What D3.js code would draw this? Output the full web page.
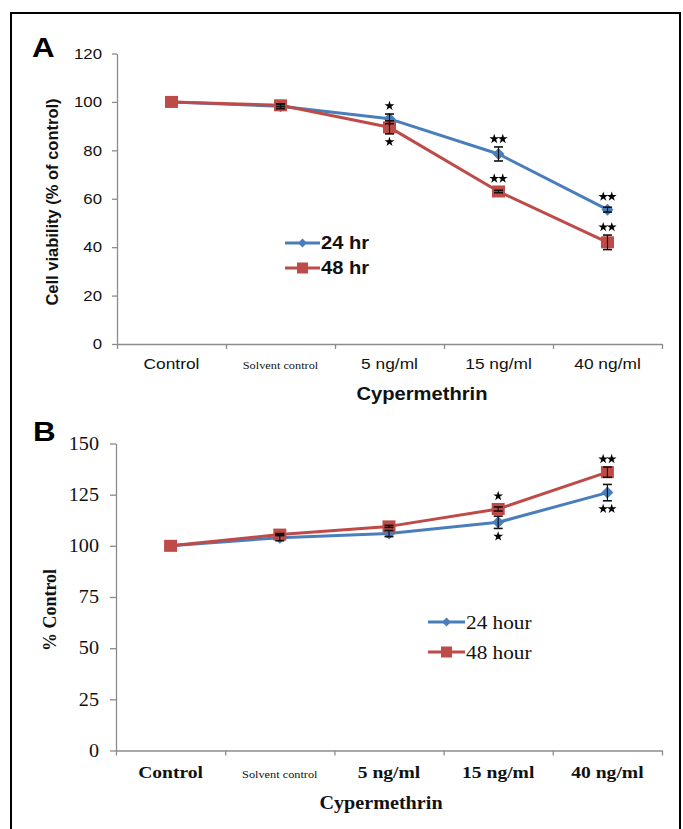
<!DOCTYPE html>
<html>
<head>
<meta charset="utf-8">
<script src="https://cdn.jsdelivr.net/npm/d3@7"></script>
<style>
  html, body { margin: 0; padding: 0; background: #fff; }
  svg { display: block; }
</style>
</head>
<body>
<svg id="chart" width="683" height="829"></svg>
<script>
// ---------- DATA ----------
const categories = ["Control", "Solvent control", "5 ng/ml", "15 ng/ml", "40 ng/ml"];

// Panel A: cell viability (% of control)
const seriesNamesA = ["24 hr", "48 hr"];
const viability24 = [100, 98.2, 93, 78.5, 55.5];
const viability48 = [100, 98.6, 89.5, 63, 42];
const viabilityErr24 = [0, 1, 2, 2.9, 1];
const viabilityErr48 = [0, 0.5, 2.7, 0.5, 3];
const sigA24 = ["", "", "*", "**", "**"];
const sigA48 = ["", "", "*", "**", "**"];
const sigPosA24 = ["", "", "above", "above", "above"];
const sigPosA48 = ["", "", "below", "above", "above"];
const yTicksA = [0, 20, 40, 60, 80, 100, 120];

// Panel B: % control
const seriesNamesB = ["24 hour", "48 hour"];
const pct24 = [100, 104, 106, 111.5, 126];
const pct48 = [100, 105.5, 109.5, 118, 136];
const pctErr24 = [0, 1.5, 1.5, 3, 4];
const pctErr48 = [0, 0.5, 0.5, 1, 2.5];
const sigB24 = ["", "", "", "*", "**"];
const sigB48 = ["", "", "", "*", "**"];
const sigPosB24 = ["", "", "", "below", "below"];
const sigPosB48 = ["", "", "", "above", "above"];
const yTicksB = [0, 25, 50, 75, 100, 125, 150];

// ---------- STYLE ----------
const BLUE = "#4a7ebb";
const RED = "#be4b48";
const AXIS = "#8c8c8c";
const TXT = "#111";
const SANS = "'Liberation Sans', Arial, sans-serif";
const SERIF = "'Liberation Serif', 'Times New Roman', serif";
const SX = 1.12; // horizontal stretch of the reference's lettering

const svg = d3.select("#chart");

// outer frame
svg.append("rect").attr("x", 11).attr("y", 13).attr("width", 669).attr("height", 840)
  .attr("fill", "none").attr("stroke", "#000").attr("stroke-width", 2);

function stretch(sel) {
  sel.each(function () {
    const t = d3.select(this);
    const x = +t.attr("x") || 0, y = +t.attr("y") || 0;
    t.attr("x", 0).attr("y", 0).attr("transform", `translate(${x},${y}) scale(${SX},1)`);
  });
}

function panel(o) {
  const g = svg.append("g");
  const x = d3.scaleBand().domain(categories).range([o.x0, o.x1]).padding(0);
  const cx = c => x(c) + x.bandwidth() / 2;
  const xb = d3.scaleLinear().domain([0, categories.length]).range([o.x0, o.x1]);
  const y = d3.scaleLinear().domain(o.yDomain).range([o.yBottom, o.yTop]);

  // y axis
  const ya = g.append("g").attr("transform", `translate(${o.x0},0)`)
    .call(d3.axisLeft(y).tickValues(o.yTicks).tickSize(o.tick).tickPadding(o.tickPad).tickSizeOuter(0));
  ya.select(".domain").attr("stroke", AXIS).attr("stroke-width", 1.3);
  ya.selectAll(".tick line").attr("stroke", AXIS).attr("stroke-width", 1.3);
  ya.selectAll(".tick text").attr("font-family", o.font).attr("font-size", o.tickFont).attr("fill", TXT);
  stretch(ya.selectAll(".tick text"));

  // x axis (ticks at category boundaries)
  const xa = g.append("g").attr("transform", `translate(0,${o.yBottom})`)
    .call(d3.axisBottom(xb).tickValues(d3.range(categories.length + 1)).tickFormat("").tickSize(5).tickSizeOuter(0));
  xa.select(".domain").attr("stroke", AXIS).attr("stroke-width", 1.3);
  xa.selectAll(".tick line").attr("stroke", AXIS).attr("stroke-width", 1.3);

  // category labels
  const cats = g.selectAll(".cat").data(categories).enter().append("text")
    .attr("x", d => cx(d)).attr("y", o.catY)
    .attr("text-anchor", "middle")
    .attr("font-family", (d, i) => i === 1 ? SERIF : o.font)
    .attr("font-size", (d, i) => i === 1 ? 11 : o.catFont)
    .attr("font-weight", (d, i) => i === 1 ? "normal" : o.catWeight)
    .attr("fill", TXT)
    .text(d => d);
  stretch(cats);

  // axis titles
  const xt = g.append("text").attr("x", o.xTitleX).attr("y", o.xTitleY).attr("text-anchor", "middle")
    .attr("font-family", o.font).attr("font-size", o.xTitleFont).attr("font-weight", "bold").attr("fill", TXT)
    .text("Cypermethrin");
  stretch(xt);
  g.append("text").attr("transform", `translate(${o.yTitleX},${o.yTitleY}) rotate(-90)`)
    .attr("text-anchor", "middle").attr("font-family", o.font).attr("font-size", o.yTitleFont)
    .attr("font-weight", "bold").attr("fill", TXT).text(o.yTitle);

  // panel letter
  const lt = g.append("text").attr("x", o.letterX).attr("y", o.letterY)
    .attr("font-family", SANS).attr("font-size", 28).attr("font-weight", "bold").attr("fill", "#000")
    .text(o.letter);
  stretch(lt);

  const line = d3.line().x((d, i) => cx(categories[i])).y(d => y(d));
  const starSym = d3.symbol().type(d3.symbolStar).size(30);
  const diamondPath = h => `M0,${-h}L${h},0L0,${h}L${-h},0Z`;

  o.series.forEach(s => {
    g.append("path").datum(s.values).attr("d", line)
      .attr("fill", "none").attr("stroke", s.color).attr("stroke-width", 3).attr("stroke-linejoin", "round");
    const pts = g.selectAll(null).data(s.values).enter();
    if (s.marker === "diamond") {
      pts.append("path").attr("d", diamondPath(o.dia))
        .attr("transform", (d, i) => `translate(${cx(categories[i])},${y(d)})`)
        .attr("fill", s.color);
    } else {
      pts.append("rect")
        .attr("x", (d, i) => cx(categories[i]) - o.sqW / 2)
        .attr("y", d => y(d) - o.sqH / 2)
        .attr("width", o.sqW).attr("height", o.sqH)
        .attr("fill", s.color);
    }
  });

  // error bars + significance stars
  o.series.forEach(s => {
    s.values.forEach((v, i) => {
      const e = s.err[i];
      const px = cx(categories[i]);
      if (e > 0) {
        const y1 = y(v + e), y2 = y(v - e);
        g.append("line").attr("x1", px).attr("x2", px).attr("y1", y1).attr("y2", y2)
          .attr("stroke", "#111").attr("stroke-width", 1.2);
        [y1, y2].forEach(yy => g.append("line").attr("x1", px - 4.5).attr("x2", px + 4.5)
          .attr("y1", yy).attr("y2", yy).attr("stroke", "#111").attr("stroke-width", 1.6));
      }
      const sig = s.sig[i];
      if (sig) {
        const errPx = Math.abs(y(v + e) - y(v));
        const off = Math.max(errPx, 5) + 8;
        const sy = s.sigPos[i] === "above" ? y(v) - off : y(v) + off;
        const n = sig.length;
        for (let k = 0; k < n; k++) {
          const sx = px + (k - (n - 1) / 2) * 8.5;
          g.append("path").attr("d", starSym).attr("transform", `translate(${sx},${sy})`)
            .attr("fill", "#000");
        }
      }
    });
  });

  // legend
  o.series.forEach((s, i) => {
    const ly = o.legY + i * o.legGap;
    g.append("line").attr("x1", o.legX).attr("x2", o.legX + o.legLen)
      .attr("y1", ly).attr("y2", ly).attr("stroke", s.color).attr("stroke-width", 3);
    const mx = o.legX + o.legLen / 2;
    if (s.marker === "diamond") {
      g.append("path").attr("d", diamondPath(4.5))
        .attr("transform", `translate(${mx},${ly})`).attr("fill", s.color);
    } else {
      g.append("rect").attr("x", mx - 5.5).attr("y", ly - 5.5).attr("width", 11).attr("height", 11)
        .attr("fill", s.color);
    }
    const t = g.append("text").attr("x", o.legX + o.legLen + 1).attr("y", ly)
      .attr("dy", "0.35em").attr("font-family", o.font).attr("font-size", o.legFont)
      .attr("font-weight", o.legWeight).attr("fill", TXT).text(s.name);
    stretch(t);
  });
}

panel({
  letter: "A", letterX: 32, letterY: 57,
  x0: 117, x1: 662, yTop: 53.5, yBottom: 344, yDomain: [0, 120], yTicks: yTicksA,
  tick: 5, tickPad: 10, tickFont: 15, font: SANS,
  catY: 369, catFont: 15.5, catWeight: "normal",
  xTitleX: 422, xTitleY: 400, xTitleFont: 18,
  yTitle: "Cell viability (% of control)", yTitleX: 58, yTitleY: 202, yTitleFont: 16.5,
  dia: 6, sqW: 13, sqH: 12,
  legX: 285, legY: 243, legGap: 25, legLen: 35, legFont: 18, legWeight: "bold",
  series: [
    { name: seriesNamesA[0], values: viability24, err: viabilityErr24, sig: sigA24, sigPos: sigPosA24, color: BLUE, marker: "diamond" },
    { name: seriesNamesA[1], values: viability48, err: viabilityErr48, sig: sigA48, sigPos: sigPosA48, color: RED, marker: "square" }
  ]
});

panel({
  letter: "B", letterX: 33, letterY: 441,
  x0: 116, x1: 662, yTop: 443.5, yBottom: 750.5, yDomain: [0, 150], yTicks: yTicksB,
  tick: 6, tickPad: 11, tickFont: 18, font: SERIF,
  catY: 778, catFont: 17.5, catWeight: "bold",
  xTitleX: 381, xTitleY: 809, xTitleFont: 18,
  yTitle: "% Control", yTitleX: 56, yTitleY: 610, yTitleFont: 18,
  dia: 6, sqW: 13, sqH: 12,
  legX: 428, legY: 622, legGap: 30, legLen: 37, legFont: 19, legWeight: "normal",
  series: [
    { name: seriesNamesB[0], values: pct24, err: pctErr24, sig: sigB24, sigPos: sigPosB24, color: BLUE, marker: "diamond" },
    { name: seriesNamesB[1], values: pct48, err: pctErr48, sig: sigB48, sigPos: sigPosB48, color: RED, marker: "square" }
  ]
});
</script>
</body>
</html>
